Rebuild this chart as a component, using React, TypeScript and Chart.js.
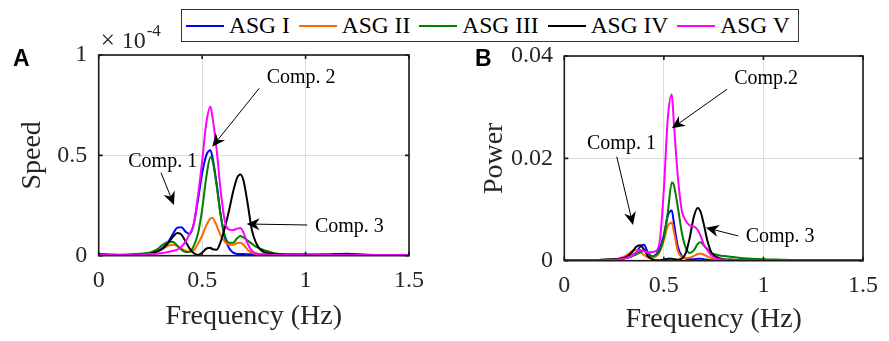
import { useEffect, useRef } from "react";
import { Chart, registerables } from "chart.js";
Chart.register(...registerables);

// ---------- data ----------
const freq = [0, 0.1, 0.2, 0.25, 0.28, 0.31, 0.34, 0.36, 0.38, 0.4, 0.42, 0.44, 0.46, 0.48, 0.5, 0.52, 0.54, 0.55, 0.57, 0.59, 0.61, 0.63, 0.65, 0.67, 0.685, 0.7, 0.72, 0.74, 0.76, 0.78, 0.8, 0.85, 0.9, 1.0, 1.1, 1.2, 1.3, 1.4, 1.5];

const seriesNames = ["ASG I", "ASG II", "ASG III", "ASG IV", "ASG V"];
const seriesColors = ["#0000ff", "#ff6600", "#008000", "#000000", "#ff00ff"];

// Speed spectrum (units of 1e-4)
const speedI = [0.008, 0.005, 0.007, 0.012, 0.022, 0.04, 0.075, 0.11, 0.14, 0.142, 0.12, 0.108, 0.16, 0.28, 0.41, 0.5, 0.525, 0.49, 0.36, 0.2, 0.09, 0.038, 0.015, 0.009, 0.008, 0.008, 0.007, 0.007, 0.006, 0.006, 0.006, 0.005, 0.005, 0.006, 0.007, 0.01, 0.005, 0.004, 0.004];
const speedII = [0.003, 0.003, 0.005, 0.01, 0.02, 0.035, 0.052, 0.055, 0.048, 0.035, 0.024, 0.02, 0.028, 0.06, 0.1, 0.15, 0.185, 0.188, 0.15, 0.1, 0.07, 0.055, 0.055, 0.063, 0.065, 0.055, 0.03, 0.015, 0.008, 0.005, 0.004, 0.003, 0.003, 0.003, 0.003, 0.003, 0.003, 0.003, 0.003];
const speedIII = [0.004, 0.004, 0.01, 0.016, 0.03, 0.055, 0.07, 0.068, 0.05, 0.03, 0.018, 0.02, 0.05, 0.11, 0.23, 0.39, 0.49, 0.475, 0.35, 0.2, 0.1, 0.065, 0.065, 0.088, 0.098, 0.09, 0.075, 0.06, 0.045, 0.035, 0.028, 0.012, 0.007, 0.006, 0.004, 0.003, 0.003, 0.002, 0.002];
const speedIV = [0.003, 0.003, 0.006, 0.01, 0.02, 0.036, 0.068, 0.095, 0.113, 0.105, 0.07, 0.035, 0.012, 0.004, 0.015, 0.035, 0.04, 0.032, 0.03, 0.07, 0.14, 0.225, 0.32, 0.39, 0.405, 0.375, 0.26, 0.13, 0.065, 0.032, 0.018, 0.008, 0.005, 0.004, 0.003, 0.003, 0.003, 0.003, 0.003];
const speedV = [0.005, 0.004, 0.006, 0.008, 0.01, 0.013, 0.02, 0.025, 0.03, 0.045, 0.07, 0.11, 0.16, 0.3, 0.47, 0.66, 0.742, 0.69, 0.53, 0.32, 0.17, 0.13, 0.128, 0.135, 0.138, 0.115, 0.06, 0.025, 0.012, 0.008, 0.006, 0.005, 0.004, 0.004, 0.004, 0.003, 0.003, 0.003, 0.003];

// Power spectrum
const powerI = [0.0001, 0.0001, 0.0001, 0.0002, 0.0003, 0.0005, 0.0009, 0.0015, 0.0027, 0.0031, 0.0016, 0.0008, 0.0012, 0.0025, 0.005, 0.0088, 0.0098, 0.0075, 0.0028, 0.0009, 0.0004, 0.0003, 0.0003, 0.0004, 0.0004, 0.0003, 0.0002, 0.0001, 0.0001, 0.0001, 0.0001, 0.0001, 0.0001, 0.0001, 0.0001, 0.0001, 0.0001, 0.0001, 0.0001];
const powerII = [0.0001, 0.0001, 0.0002, 0.0003, 0.0005, 0.001, 0.0019, 0.0021, 0.0018, 0.0011, 0.0006, 0.0005, 0.0008, 0.0018, 0.004, 0.0068, 0.0074, 0.0058, 0.0019, 0.0007, 0.0005, 0.0006, 0.0009, 0.0013, 0.0014, 0.0012, 0.0008, 0.0005, 0.0003, 0.0002, 0.0001, 0.0001, 0.0001, 0.0001, 0.0001, 0.0001, 0.0001, 0.0001, 0.0001];
const powerIII = [0.0001, 0.0001, 0.0002, 0.0003, 0.0004, 0.0006, 0.0009, 0.0012, 0.0016, 0.002, 0.0016, 0.0009, 0.0011, 0.002, 0.0045, 0.0095, 0.0153, 0.0148, 0.0105, 0.0055, 0.0025, 0.0015, 0.002, 0.0033, 0.0036, 0.003, 0.0022, 0.0015, 0.0012, 0.001, 0.0009, 0.0007, 0.0005, 0.0003, 0.0002, 0.0001, 0.0001, 0.0001, 0.0001];
const powerIV = [0.0001, 0.0001, 0.0002, 0.0003, 0.0004, 0.0007, 0.0016, 0.0027, 0.003, 0.0022, 0.0009, 0.0003, 0.0001, 0.0001, 0.0002, 0.0004, 0.0004, 0.0003, 0.0002, 0.0004, 0.0015, 0.0045, 0.0085, 0.0103, 0.0095, 0.0072, 0.0037, 0.0015, 0.0008, 0.0005, 0.0003, 0.0002, 0.0001, 0.0001, 0.0001, 0.0001, 0.0001, 0.0001, 0.0001];
const powerV = [0.0001, 0.0001, 0.0001, 0.0002, 0.0003, 0.0005, 0.001, 0.0016, 0.0021, 0.0019, 0.0016, 0.0017, 0.0019, 0.004, 0.014, 0.028, 0.0325, 0.027, 0.0165, 0.0098, 0.0078, 0.0069, 0.0067, 0.006, 0.0048, 0.0032, 0.002, 0.001, 0.0005, 0.0003, 0.0002, 0.0001, 0.0001, 0.0001, 0.0001, 0.0001, 0.0001, 0.0001, 0.0001];

const freqTicks = [0, 0.5, 1, 1.5];
const speedTicks = [0, 0.5, 1];
const powerTicks = [0, 0.02, 0.04];

type Note = { text: string; at: [number, number]; from: [number, number]; to: [number, number] };
const speedNotes: Note[] = [
  { text: "Comp. 1", at: [0.143, 0.443], from: [0.301, 0.414], to: [0.364, 0.253] },
  { text: "Comp. 2", at: [0.812, 0.859], from: [0.776, 0.834], to: [0.549, 0.543] },
  { text: "Comp. 3", at: [1.045, 0.117], from: [1.008, 0.153], to: [0.715, 0.158] },
];
const powerNotes: Note[] = [
  { text: "Comp. 1", at: [0.114, 0.02183], from: [0.2635, 0.02032], to: [0.345, 0.00698] },
  { text: "Comp.2", at: [0.853, 0.03453], from: [0.817, 0.0335], to: [0.54, 0.02587] },
  { text: "Comp. 3", at: [0.911, 0.0036], from: [0.874, 0.00483], to: [0.711, 0.00645] },
];

// ---------- styling ----------
const SERIF = "'Liberation Serif', 'Times New Roman', serif";
const SANS = "'Liberation Sans', Arial, sans-serif";
const INK = "#262626";

function makePlugin(notes: Note[], xt: number[], yt: number[], letter: string, letterX: number, letterY: number, exponent: boolean) {
  return {
    id: "frameNotes",
    afterDatasetsDraw(chart: any) {
      const { ctx, chartArea: a, scales } = chart;
      const sx = scales.x, sy = scales.y;
      ctx.save();
      // frame
      ctx.strokeStyle = "#1a1a1a";
      ctx.lineWidth = 1.6;
      ctx.strokeRect(a.left, a.top, a.right - a.left, a.bottom - a.top);
      // inward ticks
      const tl = 4;
      ctx.beginPath();
      xt.forEach((v) => {
        const px = sx.getPixelForValue(v);
        ctx.moveTo(px, a.bottom); ctx.lineTo(px, a.bottom - tl);
        ctx.moveTo(px, a.top); ctx.lineTo(px, a.top + tl);
      });
      yt.forEach((v) => {
        const py = sy.getPixelForValue(v);
        ctx.moveTo(a.left, py); ctx.lineTo(a.left + tl, py);
        ctx.moveTo(a.right, py); ctx.lineTo(a.right - tl, py);
      });
      ctx.stroke();
      // notes
      ctx.fillStyle = "#000";
      ctx.strokeStyle = "#000";
      ctx.font = `20px ${SERIF}`;
      ctx.textAlign = "left";
      ctx.textBaseline = "alphabetic";
      notes.forEach((n) => {
        ctx.fillText(n.text, sx.getPixelForValue(n.at[0]), sy.getPixelForValue(n.at[1]));
        const x0 = sx.getPixelForValue(n.from[0]), y0 = sy.getPixelForValue(n.from[1]);
        const x1 = sx.getPixelForValue(n.to[0]), y1 = sy.getPixelForValue(n.to[1]);
        const ang = Math.atan2(y1 - y0, x1 - x0);
        const hl = 13, hw = 6, notch = 9;
        const ux = Math.cos(ang), uy = Math.sin(ang);
        ctx.lineWidth = 1;
        ctx.beginPath();
        ctx.moveTo(x0, y0);
        ctx.lineTo(x1 - ux * notch, y1 - uy * notch);
        ctx.stroke();
        ctx.beginPath();
        ctx.moveTo(x1, y1);
        ctx.lineTo(x1 - ux * hl - uy * hw, y1 - uy * hl + ux * hw);
        ctx.lineTo(x1 - ux * notch, y1 - uy * notch);
        ctx.lineTo(x1 - ux * hl + uy * hw, y1 - uy * hl - ux * hw);
        ctx.closePath();
        ctx.fill();
      });
      // panel letter
      ctx.font = `bold 23px ${SANS}`;
      ctx.fillStyle = "#000";
      ctx.fillText(letter, letterX, letterY);
      if (exponent) {
        ctx.fillStyle = INK;
        ctx.font = `25px ${SERIF}`;
        ctx.fillText("\u00d7", a.left + 2, a.top - 7);
        ctx.font = `24px ${SERIF}`;
        ctx.fillText("10", a.left + 23, a.top - 7);
        ctx.font = `17px ${SERIF}`;
        ctx.fillText("-4", a.left + 48, a.top - 19);
      }
      ctx.restore();
    },
  };
}

function buildChart(
  canvas: HTMLCanvasElement,
  series: number[][],
  yTicks: number[],
  yTitle: string,
  dims: { top: number; right: number; yWidth: number; xHeight: number; xTitlePad: number; yTitlePad: number },
  plugin: any
) {
  return new Chart(canvas, {
    type: "line",
    data: {
      datasets: seriesNames.map((name, i) => ({
        label: name,
        data: freq.map((f, j) => ({ x: f, y: series[i][j] })),
        borderColor: seriesColors[i],
        backgroundColor: seriesColors[i],
        borderWidth: 2,
        pointRadius: 0,
        fill: false,
        cubicInterpolationMode: "monotone" as const,
        order: seriesNames.length - i,
      })),
    },
    options: {
      animation: false,
      responsive: false,
      events: [],
      layout: { padding: { top: dims.top, right: dims.right, left: 0, bottom: 0 } },
      plugins: { legend: { display: false }, tooltip: { enabled: false } },
      scales: {
        x: {
          type: "linear",
          min: freqTicks[0],
          max: freqTicks[freqTicks.length - 1],
          afterBuildTicks: (s: any) => { s.ticks = freqTicks.map((v) => ({ value: v })); },
          afterFit: (s: any) => { s.height = dims.xHeight; },
          ticks: { font: { family: SERIF, size: 24 }, color: INK, padding: 11, maxRotation: 0, autoSkip: false, callback: (v: any) => String(v) },
          grid: { color: "#dcdcdc", lineWidth: 1, drawTicks: false },
          border: { display: false },
          title: { display: true, text: "Frequency (Hz)", font: { family: SERIF, size: 28 }, color: INK, padding: { top: 0, bottom: dims.xTitlePad } },
        },
        y: {
          type: "linear",
          min: yTicks[0],
          max: yTicks[yTicks.length - 1],
          afterBuildTicks: (s: any) => { s.ticks = yTicks.map((v) => ({ value: v })); },
          afterFit: (s: any) => { s.width = dims.yWidth; },
          ticks: { font: { family: SERIF, size: 24 }, color: INK, padding: 11.4, autoSkip: false, callback: (v: any) => String(v) },
          grid: { color: "#dcdcdc", lineWidth: 1, drawTicks: false },
          border: { display: false },
          title: { display: true, text: yTitle, font: { family: SERIF, size: 28 }, color: INK, padding: { top: dims.yTitlePad, bottom: 0 } },
        },
      },
    },
    plugins: [plugin],
  } as any);
}

export default function App() {
  const refA = useRef<HTMLCanvasElement>(null);
  const refB = useRef<HTMLCanvasElement>(null);

  useEffect(() => {
    const a = buildChart(
      refA.current!,
      [speedI, speedII, speedIII, speedIV, speedV],
      speedTicks,
      "Speed",
      { top: 55, right: 36, yWidth: 98.7, xHeight: 85.3, xTitlePad: 7.7, yTitlePad: 15.7 },
      makePlugin(speedNotes, freqTicks, speedTicks, "A", 13, 66, true)
    );
    const b = buildChart(
      refB.current!,
      [powerI, powerII, powerIII, powerIV, powerV],
      powerTicks,
      "Power",
      { top: 56, right: 17.3, yWidth: 119.3, xHeight: 80.3, xTitlePad: 4.7, yTitlePad: 33.2 },
      makePlugin(powerNotes, freqTicks, powerTicks, "B", 30, 65.5, false)
    );
    return () => { a.destroy(); b.destroy(); };
  }, []);

  return (
    <div style={{ position: "absolute", left: 0, top: 0, width: 889, height: 341, background: "#fff", overflow: "hidden" }}>
      <canvas ref={refA} width={445} height={341} style={{ position: "absolute", left: 0, top: 0, width: 445, height: 341 }} />
      <canvas ref={refB} width={444} height={341} style={{ position: "absolute", left: 445, top: 0, width: 444, height: 341 }} />
      <div
        style={{
          position: "absolute", left: 181, top: 9, height: 33, boxSizing: "border-box",
          border: "1.5px solid #333", background: "#fff", display: "flex", alignItems: "center",
          paddingLeft: 4, paddingRight: 8, fontFamily: SERIF, fontSize: 23.5, lineHeight: 1, color: "#000",
        }}
      >
        {seriesNames.map((name, i) => (
          <div key={name} style={{ display: "flex", alignItems: "center", marginLeft: i === 0 ? 0 : 9 }}>
            <span style={{ display: "inline-block", width: 38, height: 2, background: seriesColors[i], marginRight: 5 }} />
            <span style={{ whiteSpace: "nowrap" }}>{name}</span>
          </div>
        ))}
      </div>
    </div>
  );
}
